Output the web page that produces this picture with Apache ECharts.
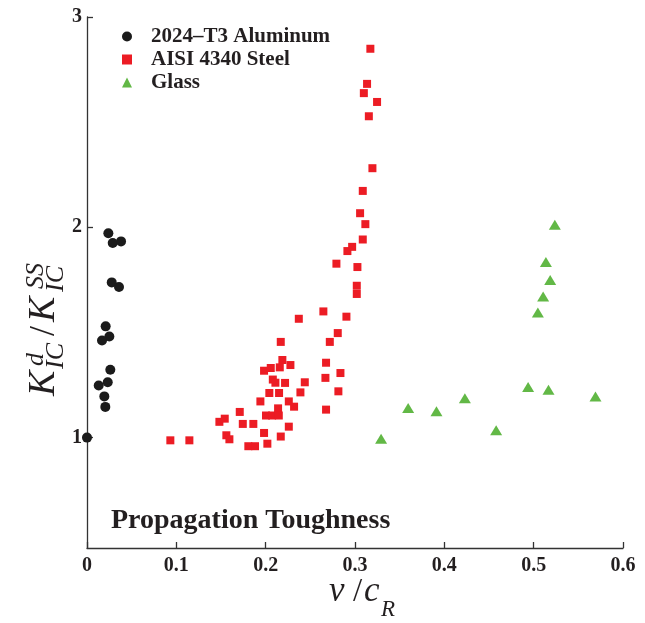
<!DOCTYPE html>
<html>
<head>
<meta charset="utf-8">
<script src="https://cdn.jsdelivr.net/npm/echarts@6/dist/echarts.min.js"></script>
<style>html,body{margin:0;padding:0;background:#fff}#c{width:645px;height:623px}</style>
</head>
<body>
<div id="c"></div>
<script>
var seriesNames = ['2024\u2013T3 Aluminum', 'AISI 4340 Steel', 'Glass'];
var xTickLabels = ['0', '0.1', '0.2', '0.3', '0.4', '0.5', '0.6'];
var yTickValues = [1, 2, 3];

var aluminumX = [0.0239, 0.0288, 0.0381, 0.0277, 0.0358, 0.0209, 0.0250, 0.0168, 0.0261, 0.0232, 0.0131, 0.0194, 0.0205, 0.0];
var aluminumY = [1.972, 1.925, 1.933, 1.738, 1.716, 1.529, 1.481, 1.462, 1.323, 1.263, 1.248, 1.196, 1.146, 1.0];

var steelX = [0.0933, 0.1146, 0.1482, 0.1542, 0.1560, 0.1594, 0.1710, 0.1744, 0.1806, 0.1862, 0.1881, 0.1941, 0.1982, 0.1982, 0.2004, 0.2019, 0.2041, 0.2057, 0.2072, 0.2080, 0.2109, 0.2139, 0.2147, 0.2150, 0.2158, 0.2169, 0.2169, 0.2187, 0.2217, 0.2259, 0.2259, 0.2277, 0.2318, 0.2371, 0.2389, 0.2438, 0.2646, 0.2669, 0.2676, 0.2676, 0.2718, 0.2792, 0.2807, 0.2814, 0.2837, 0.2904, 0.2915, 0.2968, 0.3020, 0.3020, 0.3027, 0.3057, 0.3087, 0.3087, 0.3099, 0.3116, 0.3135, 0.3155, 0.3172, 0.3195, 0.3247];
var steelY = [0.987, 0.987, 1.075, 1.090, 1.011, 0.992, 1.122, 1.065, 0.959, 1.065, 0.959, 1.172, 1.318, 1.022, 1.105, 0.971, 1.212, 1.331, 1.105, 1.276, 1.261, 1.139, 1.105, 1.212, 1.334, 1.455, 1.005, 1.369, 1.260, 1.172, 1.052, 1.345, 1.147, 1.565, 1.215, 1.263, 1.600, 1.284, 1.356, 1.133, 1.455, 1.827, 1.497, 1.220, 1.307, 1.575, 1.887, 1.907, 1.722, 1.683, 1.811, 2.067, 2.173, 1.942, 2.638, 2.015, 2.682, 2.528, 2.849, 2.281, 2.596];

var glassX = [0.5237, 0.5137, 0.5185, 0.5106, 0.5047, 0.4938, 0.5166, 0.5692, 0.4230, 0.3595, 0.3912, 0.4580, 0.3292];
var glassY = [2.012, 1.835, 1.749, 1.671, 1.595, 1.241, 1.227, 1.196, 1.187, 1.141, 1.125, 1.035, 0.995];

function zip(xs, ys) { return xs.map(function (x, i) { return [x, ys[i]]; }); }

var serif = 'Liberation Serif';
var ink = '#231f20';

var chart = echarts.init(document.getElementById('c'), null, { renderer: 'canvas' });
chart.setOption({
  animation: false,
  backgroundColor: '#ffffff',
  grid: { left: 87, right: 22, top: 17, bottom: 75, containLabel: false },
  legend: {
    orient: 'vertical',
    left: 117,
    top: 21,
    itemWidth: 10,
    itemHeight: 10,
    itemGap: 2,
    textStyle: { fontFamily: serif, fontWeight: 'bold', fontSize: 21, color: ink, padding: [0, 0, 0, 14] },
    data: [
      { name: seriesNames[0], icon: 'circle' },
      { name: seriesNames[1], icon: 'rect', itemStyle: {} },
      { name: seriesNames[2], icon: 'triangle' }
    ]
  },
  xAxis: {
    type: 'value',
    min: 0, max: 0.6, interval: 0.1,
    axisLine: { show: true, onZero: false, lineStyle: { color: '#333', width: 1.3 } },
    axisTick: { show: true, inside: true, length: 6, lineStyle: { color: '#333', width: 1.3 } },
    splitLine: { show: false },
    axisLabel: {
      margin: 8,
      fontFamily: serif, fontWeight: 'bold', fontSize: 20, color: ink,
      formatter: function (v) { var i = Math.round(v * 10); return xTickLabels[i] !== undefined ? xTickLabels[i] : ''; }
    }
  },
  yAxis: {
    type: 'value',
    min: 0.475, max: 3,
    axisLine: { show: true, onZero: false, lineStyle: { color: '#333', width: 1.3 } },
    axisTick: { show: true, inside: true, length: 6, customValues: yTickValues, lineStyle: { color: '#333', width: 1.3 } },
    splitLine: { show: false },
    axisLabel: {
      margin: 5,
      customValues: yTickValues,
      fontFamily: serif, fontWeight: 'bold', fontSize: 20, color: ink
    }
  },
  series: [
    {
      name: seriesNames[0], type: 'scatter', symbol: 'circle', symbolSize: 10,
      itemStyle: { color: '#1b1b1b', opacity: 1 },
      data: zip(aluminumX, aluminumY), z: 3
    },
    {
      name: seriesNames[1], type: 'scatter', symbol: 'rect', symbolSize: 8,
      itemStyle: { color: '#ec1c24', opacity: 1 },
      data: zip(steelX, steelY), z: 2
    },
    {
      name: seriesNames[2], type: 'scatter', symbol: 'triangle', symbolSize: [12, 10],
      itemStyle: { color: '#62b846', opacity: 1 },
      data: zip(glassX, glassY), z: 2
    }
  ],
  graphic: [
    {
      type: 'text', left: 111, top: 507, silent: true,
      style: { text: 'Propagation Toughness', font: 'bold 28px "Liberation Serif"', fill: ink }
    },
    {
      type: 'group', x: 0, y: 0, silent: true,
      children: [
        { type: 'text', x: 329, y: 609, style: { text: 'v', font: 'italic 35px "Liberation Serif"', fill: ink, textVerticalAlign: 'bottom' } },
        { type: 'text', x: 353, y: 609, style: { text: '/', font: '33px "Liberation Serif"', fill: ink, textVerticalAlign: 'bottom' } },
        { type: 'text', x: 364, y: 609, style: { text: 'c', font: 'italic 35px "Liberation Serif"', fill: ink, textVerticalAlign: 'bottom' } },
        { type: 'text', x: 381, y: 621, style: { text: 'R', font: 'italic 23px "Liberation Serif"', fill: ink, textVerticalAlign: 'bottom' } }
      ]
    },
    {
      type: 'group', x: 63, y: 396, rotation: Math.PI / 2, silent: true,
      children: [
        { type: 'text', x: 0, y: 0, style: { text: 'K', font: 'italic 38px "Liberation Serif"', fill: ink, textVerticalAlign: 'bottom' } },
        { type: 'text', x: 30, y: -14, style: { text: 'd', font: 'italic 26px "Liberation Serif"', fill: ink, textVerticalAlign: 'bottom' } },
        { type: 'text', x: 27, y: 6, style: { text: 'IC', font: 'italic 26px "Liberation Serif"', fill: ink, textVerticalAlign: 'bottom' } },
        { type: 'text', x: 60, y: 0, style: { text: '/', font: '36px "Liberation Serif"', fill: ink, textVerticalAlign: 'bottom' } },
        { type: 'text', x: 74, y: 0, style: { text: 'K', font: 'italic 38px "Liberation Serif"', fill: ink, textVerticalAlign: 'bottom' } },
        { type: 'text', x: 107, y: -14, style: { text: 'SS', font: 'italic 26px "Liberation Serif"', fill: ink, textVerticalAlign: 'bottom' } },
        { type: 'text', x: 104, y: 6, style: { text: 'IC', font: 'italic 26px "Liberation Serif"', fill: ink, textVerticalAlign: 'bottom' } }
      ]
    }
  ]
});
</script>
</body>
</html>
